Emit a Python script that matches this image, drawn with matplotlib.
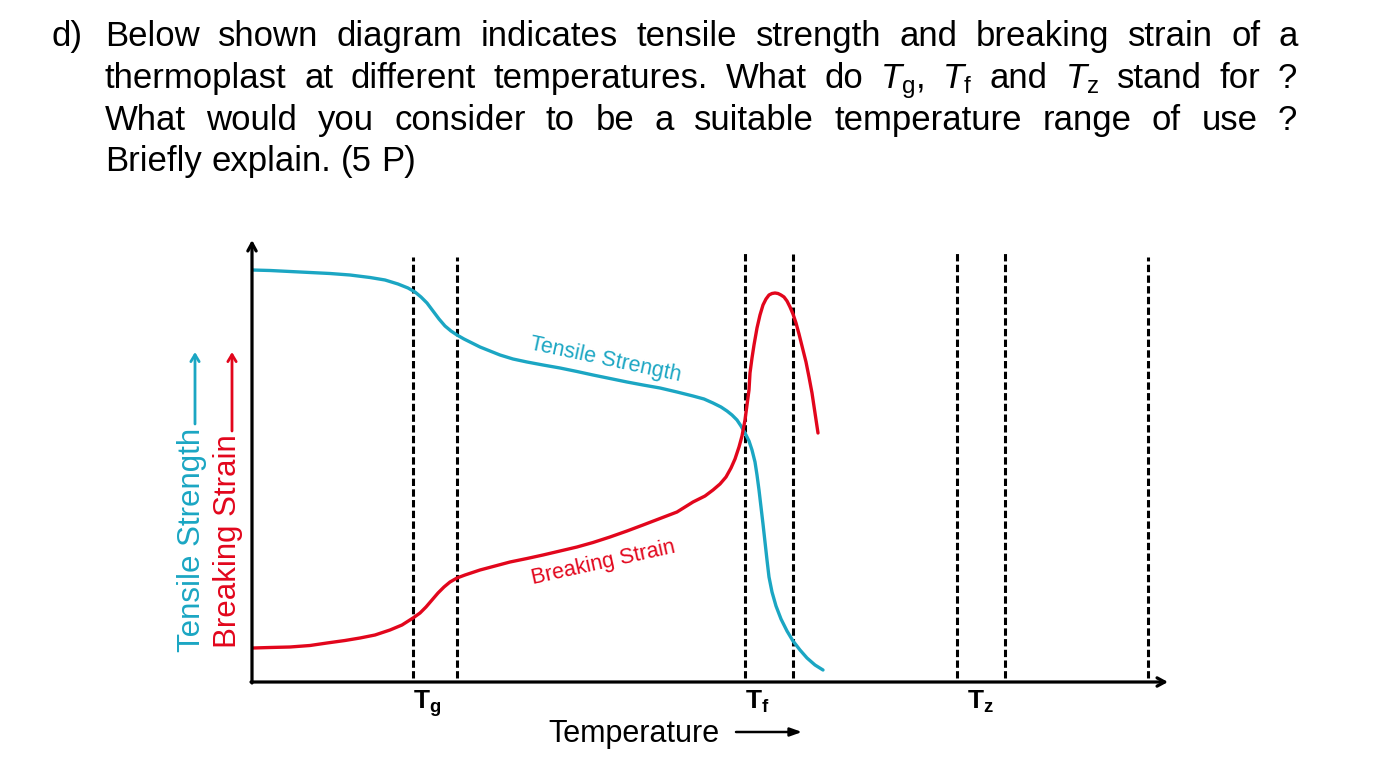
import matplotlib
matplotlib.use('Agg')
import matplotlib.pyplot as plt

plt.rcParams['font.family'] = ['Liberation Sans', 'DejaVu Sans']
plt.rcParams['mathtext.fontset'] = 'custom'
plt.rcParams['mathtext.rm'] = 'Liberation Sans'
plt.rcParams['mathtext.it'] = 'Liberation Sans:italic'
plt.rcParams['mathtext.bf'] = 'Liberation Sans:bold'

# ---------------- data (schematic units) ----------------
ts_temp = [0, 18, 38, 58, 78, 98, 118, 133, 146, 156, 163, 169, 175, 181, 187, 193, 199,
           205, 212, 220, 228, 238, 248, 261, 275, 291, 308, 325, 341, 358, 375, 391,
           408, 425, 441, 452, 461, 469, 475, 480, 485, 489, 493, 497, 500, 503, 505,
           507, 509, 511, 513, 515, 517, 520, 524, 529, 535, 541, 548, 555, 563, 571]
ts_value = [412, 411.5, 410.5, 409.5, 408.5, 407, 404.5, 402, 398, 394, 390, 385, 379,
            371, 363, 356, 351, 347, 343, 339, 335, 331, 327, 323, 320, 317, 314, 310.5,
            307, 303.5, 300, 297, 294, 290, 286, 283, 279, 275, 271, 267, 262, 256, 249,
            241, 232, 220, 207, 192, 175, 158, 140, 122, 105, 90, 76, 63, 51, 41, 32,
            24, 17, 12]

bs_temp = [1, 18, 38, 58, 75, 93, 108, 123, 138, 150, 161, 168, 174, 180, 186, 192, 198,
           205, 213, 228, 243, 258, 275, 291, 308, 325, 341, 358, 375, 391, 408, 425,
           441, 453, 461, 468, 474, 479, 483, 487, 490, 493, 495, 497, 498, 500, 502,
           505, 508, 511, 514, 517, 520, 523, 526, 529, 532, 535, 538, 541, 544, 547,
           551, 554, 557, 560, 563, 566]
bs_value = [34, 34.5, 35, 36.5, 39, 41.5, 44, 47, 52, 57, 64, 69, 75, 82, 89, 95, 100,
            104, 107, 112, 116, 120, 123.5, 127, 131, 135, 139.5, 145, 151, 157, 163.5,
            170, 180, 186, 192, 198, 205, 214, 223, 235, 246, 262, 277, 292, 309, 324,
            337, 354, 367, 377, 383, 387, 388.5, 389, 388.5, 387, 385, 381, 375, 368,
            359, 348, 332, 320, 305, 289, 269, 249]

guide_temp = [161, 205, 493, 541, 705, 753, 896]
guide_top = [425, 425, 429, 428, 429, 431, 425]

tick_labels = [r'$\mathbf{T_g}$', r'$\mathbf{T_f}$', r'$\mathbf{T_z}$']
tick_label_px = [413, 745, 967]

CYAN = '#1ba6c3'
RED = '#e2061c'

W, H = 1375, 767
fig = plt.figure(figsize=(W / 100, H / 100), dpi=100)

# overlay in pixel coordinates for page text
ax0 = fig.add_axes([0, 0, 1, 1])
ax0.set_xlim(0, W)
ax0.set_ylim(H, 0)
ax0.axis('off')

# ---------------- question text ----------------
renderer = fig.canvas.get_renderer()
FS = 25


def justified(words, x0, x1, y, justify=True):
    texts = [ax0.text(0, y, w, fontsize=FS, va='baseline', ha='left') for w in words]
    widths = [t.get_window_extent(renderer).width for t in texts]
    if justify:
        gap = (x1 - x0 - sum(widths)) / (len(words) - 1)
    else:
        sp = ax0.text(0, y, 'a a', fontsize=FS)
        sp2 = ax0.text(0, y, 'aa', fontsize=FS)
        gap = sp.get_window_extent(renderer).width - sp2.get_window_extent(renderer).width
        sp.remove(); sp2.remove()
    x = x0
    for t, w in zip(texts, widths):
        t.set_x(x)
        x += w + gap


ax0.text(52, 46, 'd)', fontsize=FS, va='baseline', ha='left')
justified('Below shown diagram indicates tensile strength and breaking strain of a'.split(),
          105, 1298, 46)
justified(['thermoplast', 'at', 'different', 'temperatures.', 'What', 'do',
           r'$T_{\mathrm{g}}$,', r'$T_{\mathrm{f}}$', 'and', r'$T_{\mathrm{z}}$',
           'stand', 'for', '?'], 105, 1297, 88)
justified('What would you consider to be a suitable temperature range of use ?'.split(),
          105, 1297, 130)
justified('Briefly explain. (5 P)'.split(), 105, 1297, 171, justify=False)

# ---------------- diagram ----------------
X0, X1, Y0, Y1 = 252, 1168, 682, 240
ax = fig.add_axes([X0 / W, (H - Y0) / H, (X1 - X0) / W, (Y0 - Y1) / H])
ax.set_xlim(0, X1 - X0)
ax.set_ylim(0, Y0 - Y1)
ax.axis('off')

for xt, top in zip(guide_temp, guide_top):
    ax.plot([xt, xt], [4, top], color='black', lw=2.2, dashes=(2.4, 1.1),
            solid_capstyle='butt', zorder=2)

ax.plot(ts_temp, ts_value, color=CYAN, lw=2.4, solid_capstyle='round',
        solid_joinstyle='round', zorder=3)
ax.plot(bs_temp, bs_value, color=RED, lw=2.4, solid_capstyle='round',
        solid_joinstyle='round', zorder=3)

ax.annotate('', xy=(0, Y0 - Y1), xytext=(0, -1), annotation_clip=False,
            arrowprops=dict(arrowstyle='->,head_length=0.55,head_width=0.3',
                            lw=2.3, color='black', shrinkA=0, shrinkB=0))
ax.annotate('', xy=(X1 - X0, 0), xytext=(-1, 0), annotation_clip=False,
            arrowprops=dict(arrowstyle='->,head_length=0.55,head_width=0.3',
                            lw=2.3, color='black', shrinkA=0, shrinkB=0))

# curve labels
ax0.text(606, 360, 'Tensile Strength', color=CYAN, fontsize=15.5, rotation=-12,
         rotation_mode='anchor', ha='center', va='center')
ax0.text(603, 563, 'Breaking Strain', color=RED, fontsize=15.5, rotation=12.5,
         rotation_mode='anchor', ha='center', va='center')

# vertical axis labels with arrows
ax0.text(192, 652, 'Tensile Strength', color=CYAN, fontsize=22.5, rotation=90,
         ha='center', va='bottom')
ax0.text(228, 648, 'Breaking Strain', color=RED, fontsize=22.5, rotation=90,
         ha='center', va='bottom')
ax0.annotate('', xy=(195, 352), xytext=(195, 424),
             arrowprops=dict(arrowstyle='->,head_length=0.5,head_width=0.3',
                             lw=2, color=CYAN, shrinkA=0, shrinkB=0))
ax0.annotate('', xy=(232, 352), xytext=(232, 431),
             arrowprops=dict(arrowstyle='->,head_length=0.5,head_width=0.3',
                             lw=2, color=RED, shrinkA=0, shrinkB=0))

# temperature tick labels
for lab, px in zip(tick_labels, tick_label_px):
    ax0.text(px, 709, lab, fontsize=19, ha='left', va='baseline')

ax0.text(634, 742, 'Temperature', fontsize=22, ha='center', va='baseline')
ax0.annotate('', xy=(802, 732), xytext=(736, 732),
             arrowprops=dict(arrowstyle='-|>,head_length=0.7,head_width=0.25',
                             lw=1.8, color='black', shrinkA=0, shrinkB=0))

fig.savefig('out.png', dpi=100)
